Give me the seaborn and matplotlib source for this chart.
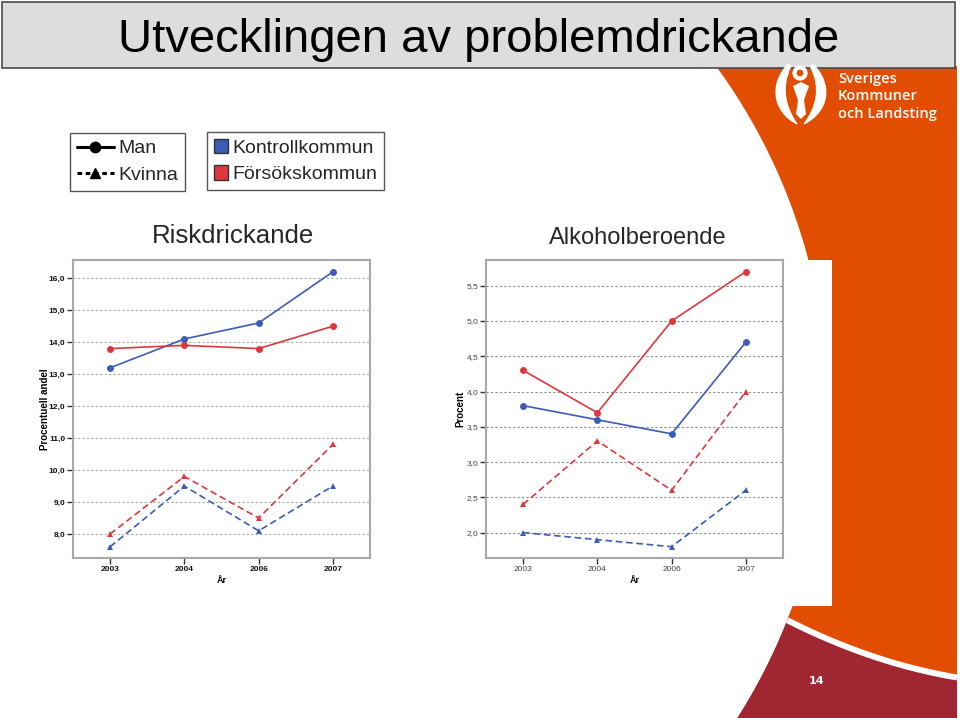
import numpy as np
import pandas as pd
import matplotlib
matplotlib.use("Agg")
import matplotlib.pyplot as plt
import seaborn as sns
from matplotlib.lines import Line2D
from matplotlib.patches import Patch, Rectangle, Polygon, Circle, PathPatch
from matplotlib.path import Path

# ---------------- data ----------------
years = ["2003", "2004", "2006", "2007"]
genders = ["Man", "Kvinna"]
groups = ["Kontrollkommun", "Försökskommun"]

risk_man_kontroll = [13.2, 14.1, 14.6, 16.2]
risk_man_forsok = [13.8, 13.9, 13.8, 14.5]
risk_kvinna_kontroll = [7.6, 9.5, 8.1, 9.5]
risk_kvinna_forsok = [8.0, 9.8, 8.5, 10.8]

alk_man_kontroll = [3.8, 3.6, 3.4, 4.7]
alk_man_forsok = [4.3, 3.7, 5.0, 5.7]
alk_kvinna_kontroll = [2.0, 1.9, 1.8, 2.6]
alk_kvinna_forsok = [2.4, 3.3, 2.6, 4.0]

risk_ticks = [8, 9, 10, 11, 12, 13, 14, 15, 16]
alk_ticks = [2.0, 2.5, 3.0, 3.5, 4.0, 4.5, 5.0, 5.5]

BLUE = "#3B5DB8"
RED = "#DE383D"
ORANGE = "#E14E02"
DARKRED = "#A02731"


def build(mk, mf, kk, kf):
    rows = []
    for g, k, vals in [("Man", "Kontrollkommun", mk), ("Man", "Försökskommun", mf),
                       ("Kvinna", "Kontrollkommun", kk), ("Kvinna", "Försökskommun", kf)]:
        for i, v in enumerate(vals):
            rows.append({"pos": i, "år": years[i], "kön": g, "grupp": k, "värde": v})
    return pd.DataFrame(rows)


df_risk = build(risk_man_kontroll, risk_man_forsok, risk_kvinna_kontroll, risk_kvinna_forsok)
df_alk = build(alk_man_kontroll, alk_man_forsok, alk_kvinna_kontroll, alk_kvinna_forsok)

sns.set_theme(style="white")
plt.rcParams["font.family"] = ["Liberation Sans", "DejaVu Sans"]

W, H = 960, 718
fig = plt.figure(figsize=(9.6, 7.18), dpi=100)

# ---------------- slide background decoration ----------------
bg = fig.add_axes([0, 0, 1, 1], zorder=-5)
bg.set_xlim(0, W)
bg.set_ylim(H, 0)
bg.axis("off")

cx, cy, R = 249, 407.5, 578.5
ys = np.linspace(66, H, 200)
xs = cx + np.sqrt(np.clip(R ** 2 - (ys - cy) ** 2, 0, None))
orange_pts = np.column_stack([xs, ys]).tolist() + [[957, H], [957, 66]]
bg.add_patch(Polygon(orange_pts, closed=True, fc=ORANGE, ec="none", zorder=1))

# smooth separating curve
px = [788, 833, 900, 957]
py = [621, 642, 665, 678]
coef = np.polyfit(px, py, 2)
cxs = np.linspace(775, 957, 60)
cys = np.polyval(coef, cxs)
ys2 = np.linspace(610, H, 80)
xs2 = cx + np.sqrt(np.clip(R ** 2 - (ys2 - cy) ** 2, 0, None))
dr_pts = list(zip(cxs, cys)) + [(957, H)] + list(zip(xs2[::-1], ys2[::-1]))
bg.add_patch(Polygon(dr_pts, closed=True, fc=DARKRED, ec="none", zorder=2))
# mask dark red left of the circle
mask_y = np.linspace(600, H, 60)
mask_x = cx + np.sqrt(np.clip(R ** 2 - (mask_y - cy) ** 2, 0, None))
bg.add_patch(Polygon(list(zip(mask_x, mask_y)) + [(600, H), (600, 600)], closed=True,
                     fc="white", ec="none", zorder=2.5))
sel = cxs >= 786
bg.plot(cxs[sel], cys[sel] - 0.5, color="white", lw=4.3, zorder=3, solid_capstyle="butt")

# white panel behind right chart
bg.add_patch(Rectangle((470, 260), 832 - 470, 606 - 260, fc="white", ec="none", zorder=4))

# title box
bg.add_patch(Rectangle((2, 2), 953, 66, fc="#DDDDDD", ec="#4A4A4A", lw=1.2, zorder=5))

# logo symbol (rough)
bg.add_patch(Circle((800, 73), 5.5, fc="none", ec="white", lw=3.0, zorder=6))
C4 = [Path.MOVETO, Path.CURVE4, Path.CURVE4, Path.CURVE4, Path.CURVE4, Path.CURVE4, Path.CURVE4, Path.CLOSEPOLY]
left_arm = [(788, 64), (768, 86), (774, 112), (797, 124),
            (786, 108), (780, 88), (791, 66), (788, 64)]
right_arm = [(813, 64), (834, 86), (828, 112), (804, 124),
             (816, 108), (822, 88), (810, 66), (813, 64)]
for verts in (left_arm, right_arm):
    bg.add_patch(PathPatch(Path(verts, C4), fc="white", ec="white", lw=0.8, zorder=6))
bg.add_patch(Polygon([(793, 86), (801, 82), (809, 86), (804, 100), (806, 114), (801, 119),
                      (796, 114), (798, 100)], closed=True, fc="white", ec="none", zorder=6))

for i, t in enumerate(["Sveriges", "Kommuner", "och Landsting"]):
    fig.text(838 / W, 1 - (79 + i * 17.5) / H, t, color="white", fontsize=10.5,
             family=["Open Sans", "DejaVu Sans"], fontweight="semibold", ha="left", va="center")

fig.text(479 / W, 1 - 52.5 / H, "Utvecklingen av problemdrickande", fontsize=34,
         ha="center", va="baseline", color="black")

fig.text(816 / W, 1 - 681 / H, "14", fontsize=8, fontweight="bold", color="white",
         family=["DejaVu Sans"], ha="center", va="center")

# ---------------- charts ----------------
def draw(ax, df, ylim, ticks, ylabel, bold_ticks, label_x):
    sns.lineplot(data=df, x="pos", y="värde", hue="grupp", style="kön",
                 hue_order=groups, style_order=genders, palette=[BLUE, RED],
                 markers={"Man": "o", "Kvinna": "^"},
                 dashes={"Man": "", "Kvinna": (4, 2.2)},
                 markersize=5, markeredgewidth=0, linewidth=1.2,
                 errorbar=None, legend=False, ax=ax)
    ax.set_xlim(-0.5, 3.5)
    ax.set_ylim(*ylim)
    ax.set_xticks(range(len(years)))
    ax.set_xticklabels(years)
    ax.set_yticks(ticks)
    ax.set_yticklabels([f"{v:.1f}".replace(".", ",") for v in ticks])
    w = "bold" if bold_ticks else "normal"
    tc = "#111111" if bold_ticks else "#444444"
    ax.tick_params(axis="both", which="major", bottom=True, left=True, length=4,
                   width=1, color="#333333", direction="out", labelsize=6, labelcolor=tc, pad=1.5)
    for lab in ax.get_xticklabels() + ax.get_yticklabels():
        lab.set_fontweight(w)
    gc = "#ABABAB" if bold_ticks else "#8A8A8A"
    ax.yaxis.grid(True, linestyle=(0, (2, 2)), color=gc, lw=0.8)
    ax.xaxis.grid(False)
    ax.set_axisbelow(True)
    for s in ax.spines.values():
        s.set_visible(True)
        s.set_color("#A8A8A8")
        s.set_linewidth(1.5)
    ax.set_ylabel(ylabel, fontsize=7, fontweight="bold", color="black")
    ax.yaxis.set_label_coords(label_x, 0.5)
    ax.set_xlabel("År", fontsize=6.5, fontweight="bold", color="black")
    ax.xaxis.set_label_coords(0.5, -0.06)
    ax.set_facecolor("white")


ax1 = fig.add_axes([73 / W, 1 - 558 / H, 297 / W, 298 / H])
draw(ax1, df_risk, (7.25, 16.57), risk_ticks, "Procentuell andel", True, -0.078)
ax2 = fig.add_axes([486 / W, 1 - 558 / H, 297 / W, 298 / H])
draw(ax2, df_alk, (1.64, 5.865), alk_ticks, "Procent", False, -0.07)

fig.text(233.5 / W, 1 - 242.7 / H, "Riskdrickande", fontsize=18.6, ha="center", va="baseline")
fig.text(638 / W, 1 - 244 / H, "Alkoholberoende", fontsize=17, ha="center", va="baseline")

# ---------------- legends ----------------
h1 = [Line2D([0], [0], color="black", marker="o", lw=2.2, ms=7.5),
      Line2D([0], [0], color="black", marker="^", lw=2.2, ms=7.5, ls=(0, (1.5, 1.2)))]
leg1 = fig.legend(h1, genders, loc="upper left", bbox_to_anchor=(70 / W, 1 - 133 / H),
                  frameon=True, fancybox=False, edgecolor="#555555", fontsize=14,
                  handlelength=1.9, borderpad=0.35, labelspacing=0.45, handletextpad=0.25,
                  borderaxespad=0, framealpha=1)
leg1.get_frame().set_linewidth(1.0)

h2 = [Patch(facecolor=BLUE, edgecolor="#333333"), Patch(facecolor=RED, edgecolor="#333333")]
leg2 = fig.legend(h2, groups, loc="upper left", bbox_to_anchor=(207 / W, 1 - 132 / H),
                  frameon=True, fancybox=False, edgecolor="#555555", fontsize=14,
                  handlelength=0.75, handleheight=0.75, borderpad=0.35, labelspacing=0.45,
                  handletextpad=0.2, borderaxespad=0, framealpha=1)
leg2.get_frame().set_linewidth(1.0)

fig.savefig("out.png", dpi=100)
